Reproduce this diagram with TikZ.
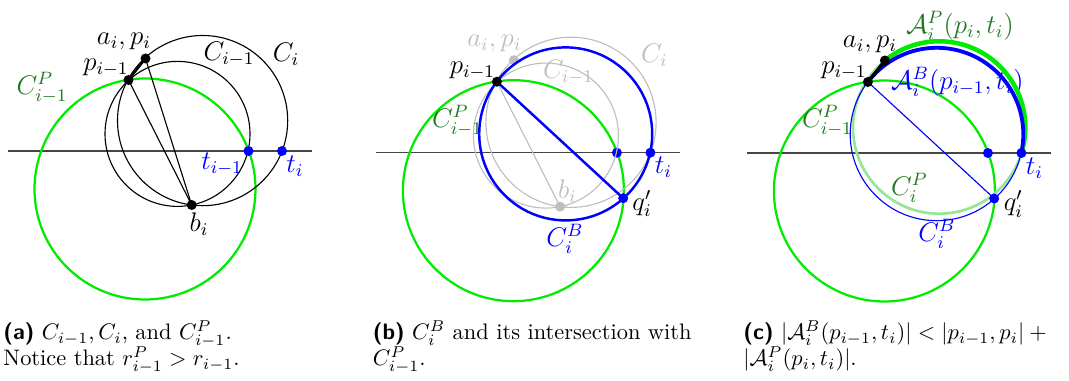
\documentclass[tikz,border=0pt]{standalone}
\usepackage{amssymb, amsmath}
\usepackage{tikz}
\definecolor{circgreen}{RGB}{0, 235, 0}
\definecolor{darkgreen}{RGB}{34, 120, 34}
\definecolor{palegreen}{RGB}{150, 230, 150}
\definecolor{faded}{RGB}{190, 190, 190}
\definecolor{axisgray}{RGB}{70, 70, 70}

% points shared by the three panels
\newcommand{\panelpoints}{
  \coordinate (pim1) at (128.5, 301);
  \coordinate (ai) at (145.5, 322.5);
  \coordinate (bi) at (191.7, 176);
  \coordinate (tim1) at (248.5, 230);
  \coordinate (ti) at (282, 230);
  \coordinate (qi) at (254.8, 184.5);
  \coordinate (cPim1) at (145, 192);
  \coordinate (cim1) at (177.5, 247.1);
  \coordinate (ci) at (202.6, 260.4);
  \coordinate (cB) at (197.3, 248.8);
  \coordinate (cP) at (199.8, 255.5);
  \coordinate (axL) at (8, 230);
  \coordinate (axR) at (312, 230);
}

\begin{document}
\begin{tikzpicture}[x=0.446pt, y=0.446pt,
  lbl/.style={font=\large, inner sep=0pt},
  captext/.style={anchor=base west, inner sep=0pt}]

  \useasboundingbox (0, 0) rectangle (1069, 381);

  % (a)
  \begin{scope}
    \panelpoints
    \draw[axisgray, line width=0.6pt] (axL) -- (axR);
    \draw[circgreen, line width=1pt] (cPim1) circle (110.5);
    \draw[line width=0.5pt] (cim1) circle (72.5);
    \draw[line width=0.5pt] (ci) circle (85.1);
    \draw[line width=0.5pt] (pim1) -- (bi);
    \draw[line width=0.5pt] (ai) -- (bi);
    \draw[line width=1pt] (pim1) -- (ai);
    \fill (pim1) circle (5);
    \fill (ai) circle (5);
    \fill (bi) circle (5);
    \fill[blue] (tim1) circle (5);
    \fill[blue] (ti) circle (5);

    \node[lbl] (aiA) at (124, 340) {$a_i, p_i$};
    \node[lbl] (pim1A) at (106, 313) {$p_{i-1}$};
    \node[lbl, darkgreen] (CPim1A) at (42, 293) {$C^P_{i-1}$};
    \node[lbl] (Cim1A) at (229, 327) {$C_{i-1}$};
    \node[lbl] (CiA) at (286, 327) {$C_i$};
    \node[lbl, blue] (tim1A) at (222, 217) {$t_{i-1}$};
    \node[lbl, blue] (tiA) at (295, 215) {$t_i$};
    \node[lbl] (biA) at (199, 157) {$b_i$};
  \end{scope}

  % (b)
  \begin{scope}[shift={(368.4, -1.7)}]
    \panelpoints
    \draw[axisgray, line width=0.6pt] (axL) -- (axR);
    \draw[circgreen, line width=1pt] (cPim1) circle (110.5);
    \fill[blue] (tim1) circle (5);
    \draw[faded, line width=0.5pt] (cim1) circle (72.5);
    \draw[faded, line width=0.5pt] (ci) circle (85.1);
    \draw[faded, line width=0.5pt] (pim1) -- (bi);
    \fill[faded] (ai) circle (5);
    \fill[faded] (bi) circle (5);
    \draw[blue, line width=1.1pt] (cB) circle (86.5);
    \draw[blue, line width=1.1pt] (pim1) -- (qi);
    \fill (pim1) circle (5);
    \fill[blue] (ti) circle (5);
    \fill[blue] (qi) circle (5);

    \node[lbl, faded] (aiB) at (126, 339) {$a_i, p_i$};
    \node[lbl] (pim1B) at (104, 312) {$p_{i-1}$};
    \node[lbl, faded] (Cim1B) at (200, 310) {$C_{i-1}$};
    \node[lbl, faded] (CiB) at (286, 327) {$C_i$};
    \node[lbl, darkgreen] (CPim1B) at (89, 262) {$C^P_{i-1}$};
    \node[lbl, faded] (biB) at (199, 192) {$b_i$};
    \node[lbl, blue] (tiB) at (295, 215) {$t_i$};
    \node[lbl] (qiB) at (273.6, 179) {$q'_i$};
    \node[lbl, blue] (CBiB) at (196.6, 144) {$C^B_i$};
  \end{scope}

  % (c)
  \begin{scope}[shift={(739.4, -2)}]
    \panelpoints
    \draw[axisgray, line width=0.6pt] (axL) -- (axR);
    \draw[circgreen, line width=1pt] (cPim1) circle (110.5);
    \draw[palegreen, line width=1.2pt] (cP) circle (86.2);
    \draw[blue, line width=0.5pt] (cB) circle (86.5);
    \draw[blue, line width=0.5pt] (pim1) -- (qi);

    \node[lbl, darkgreen] (APc) at (220.6, 357) {$\mathcal{A}^P_i(p_i, t_i)$};
    \node[lbl, blue] (ABc) at (218, 301) {$\mathcal{A}^B_i(p_{i-1}, t_i)$};

    \draw[circgreen, line width=2pt] (ai) arc[start angle=129, end angle=-17.2, radius=86.2];
    \draw[blue, line width=1.7pt] (pim1) arc[start angle=142.8, end angle=-12.5, radius=86.5];
    \draw[line width=1.4pt] (pim1) -- (ai);
    \fill (pim1) circle (5);
    \fill (ai) circle (5);
    \fill[blue] (tim1) circle (5);
    \fill[blue] (ti) circle (5);
    \fill[blue] (qi) circle (5);

    \node[lbl] (aiC) at (130.6, 339) {$a_i, p_i$};
    \node[lbl] (pim1C) at (104.6, 312) {$p_{i-1}$};
    \node[lbl, darkgreen] (CPim1C) at (88, 262) {$C^P_{i-1}$};
    \node[lbl, darkgreen] (CPiC) at (170, 195) {$C^P_i$};
    \node[lbl, blue] (tiC) at (295, 215) {$t_i$};
    \node[lbl] (qiC) at (274, 179) {$q'_i$};
    \node[lbl, blue] (CBiC) at (197.6, 149) {$C^B_i$};
  \end{scope}

  % captions
  \node[captext] (capA1) at (3, 41) {\textsf{\textbf{(a)}} $C_{i-1}, C_i$, and $C^P_{i-1}$.};
  \node[captext] (capA2) at (3, 15) {Notice that $r^P_{i-1} > r_{i-1}$.};
  \node[captext] (capB1) at (372.5, 41) {\textsf{\textbf{(b)}} $C^B_i$ and its intersection with};
  \node[captext] (capB2) at (372.5, 15) {$C^P_{i-1}$.};
  \node[captext] (capC1) at (743, 41) {\textsf{\textbf{(c)}} $|\mathcal{A}^B_i(p_{i-1}, t_i)| < |p_{i-1}, p_i| +{}$};
  \node[captext] (capC2) at (743, 15) {$|\mathcal{A}^P_i(p_i, t_i)|$.};

\end{tikzpicture}
\end{document}
